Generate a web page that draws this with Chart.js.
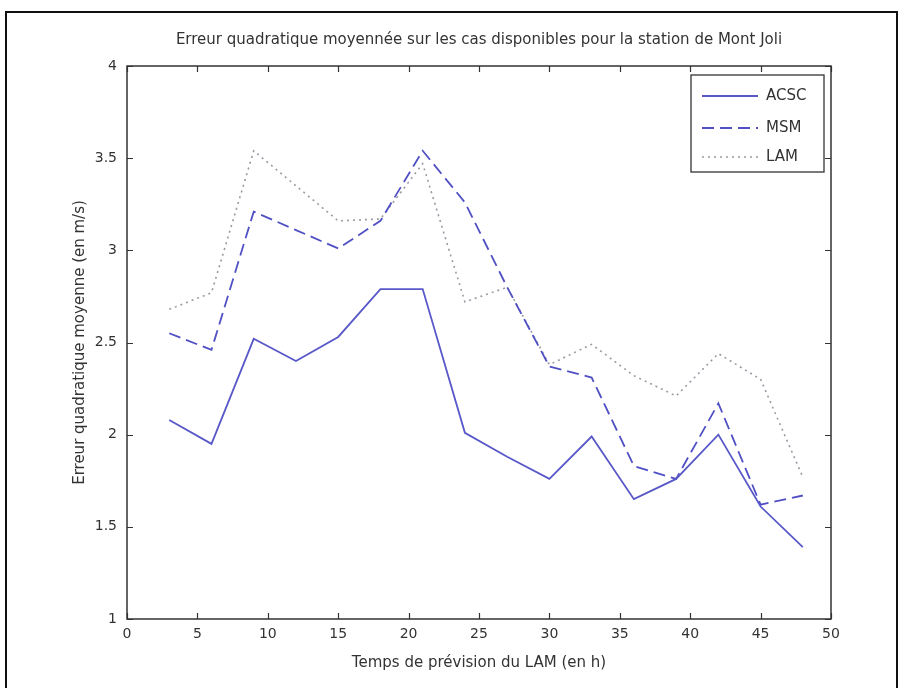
<!DOCTYPE html>
<html>
<head>
<meta charset="utf-8">
<script src="https://cdn.jsdelivr.net/npm/chart.js@4.4.0/dist/chart.umd.min.js"></script>
<style>
  html, body { margin: 0; padding: 0; background: #fff; }
  #wrap { position: relative; width: 903px; height: 688px; overflow: hidden; }
  #frame {
    position: absolute; left: 5px; top: 11px; width: 893px; height: 700px;
    border: 2px solid #111; box-sizing: border-box; pointer-events: none;
  }
  canvas { position: absolute; left: 0; top: 0; }
</style>
</head>
<body>
<div id="wrap">
  <canvas id="chart" width="903" height="688"></canvas>
  <div id="frame"></div>
</div>
<script>
// Forecast lead times (h)
const hours = [3, 6, 9, 12, 15, 18, 21, 24, 27, 30, 33, 36, 39, 42, 45, 48];

// RMSE values (m/s)
const acsc = [2.08, 1.95, 2.52, 2.40, 2.53, 2.79, 2.79, 2.01, 1.88, 1.76, 1.99, 1.65, 1.76, 2.00, 1.61, 1.39];
const msm  = [2.55, 2.46, 3.21, 3.11, 3.01, 3.16, 3.54, 3.26, 2.80, 2.37, 2.31, 1.83, 1.76, 2.17, 1.62, 1.67];
const lam  = [2.68, 2.77, 3.54, 3.35, 3.16, 3.17, 3.47, 2.72, 2.80, 2.38, 2.49, 2.32, 2.21, 2.44, 2.30, 1.77];

const seriesNames = ["ACSC", "MSM", "LAM"];

const titleText = "Erreur quadratique moyennée sur les cas disponibles pour la station de Mont Joli";
const xTitle = "Temps de prévision du LAM (en h)";
const yTitle = "Erreur quadratique moyenne (en m/s)";

const textColor = "#333";
const fontFamily = "'DejaVu Sans', sans-serif";

function toPoints(values) {
  return hours.map((h, i) => ({ x: h, y: values[i] }));
}

// MATLAB style box with inward ticks on all four sides
const boxPlugin = {
  id: "boxTicks",
  afterDatasetsDraw(chart) {
    const { ctx, chartArea: a, scales } = chart;
    const len = 6;
    ctx.save();
    ctx.strokeStyle = "#333";
    ctx.lineWidth = 1.2;
    ctx.beginPath();
    scales.x.ticks.forEach((t) => {
      const px = Math.round(scales.x.getPixelForValue(t.value)) + 0.5;
      ctx.moveTo(px, a.bottom); ctx.lineTo(px, a.bottom - len);
      ctx.moveTo(px, a.top); ctx.lineTo(px, a.top + len);
    });
    scales.y.ticks.forEach((t) => {
      const py = Math.round(scales.y.getPixelForValue(t.value)) + 0.5;
      ctx.moveTo(a.left, py); ctx.lineTo(a.left + len, py);
      ctx.moveTo(a.right, py); ctx.lineTo(a.right - len, py);
    });
    ctx.stroke();
    ctx.lineWidth = 1.5;
    ctx.strokeRect(a.left, a.top, a.right - a.left, a.bottom - a.top);
    ctx.restore();
  },
};

// legend box in the top right corner, like the original
const legendPlugin = {
  id: "boxLegend",
  afterDraw(chart) {
    const { ctx } = chart;
    const left = 691, top = 75, right = 824, bottom = 172;
    const rows = [96, 128, 157];
    ctx.save();
    ctx.fillStyle = "#fff";
    ctx.fillRect(left, top, right - left, bottom - top);
    ctx.strokeStyle = "#333";
    ctx.lineWidth = 1.3;
    ctx.strokeRect(left, top, right - left, bottom - top);
    ctx.font = "15px " + fontFamily;
    ctx.textBaseline = "middle";
    chart.data.datasets.forEach((ds, i) => {
      const y = rows[i];
      ctx.beginPath();
      ctx.setLineDash(ds.borderDash || []);
      ctx.strokeStyle = ds.borderColor;
      ctx.lineWidth = ds.borderWidth;
      ctx.moveTo(702, y);
      ctx.lineTo(758, y);
      ctx.stroke();
      ctx.setLineDash([]);
      ctx.fillStyle = textColor;
      ctx.fillText(ds.label, 766, y);
    });
    ctx.restore();
  },
};

const ctx = document.getElementById("chart").getContext("2d");
new Chart(ctx, {
  type: "line",
  data: {
    datasets: [
      {
        label: seriesNames[0],
        data: toPoints(acsc),
        borderColor: "#5858c8",
        borderWidth: 1.8,
        pointRadius: 0,
      },
      {
        label: seriesNames[1],
        data: toPoints(msm),
        borderColor: "#5050c4",
        borderWidth: 1.8,
        borderDash: [12, 6],
        pointRadius: 0,
      },
      {
        label: seriesNames[2],
        data: toPoints(lam),
        borderColor: "#9a9aa4",
        borderWidth: 1.6,
        borderDash: [2, 4],
        pointRadius: 0,
      },
    ],
  },
  options: {
    responsive: false,
    animation: false,
    layout: { padding: { left: 0, right: 72, top: 0, bottom: 0 } },
    plugins: {
      legend: { display: false },
      tooltip: { enabled: false },
      title: {
        display: true,
        fullSize: false,
        text: titleText,
        color: textColor,
        font: { family: fontFamily, size: 15, weight: "normal" },
        padding: { top: 31, bottom: 17 },
      },
    },
    scales: {
      x: {
        type: "linear",
        min: 0,
        max: 50,
        ticks: { stepSize: 5, color: textColor, padding: 7, maxRotation: 0, font: { family: fontFamily, size: 14 } },
        grid: { display: false, drawTicks: false },
        border: { display: false },
        title: {
          display: true,
          text: xTitle,
          color: textColor,
          font: { family: fontFamily, size: 15 },
          padding: { top: 4, bottom: 16 },
        },
        afterFit(scale) { scale.height = 69; },
      },
      y: {
        type: "linear",
        min: 1,
        max: 4,
        ticks: {
          stepSize: 0.5,
          color: textColor,
          padding: 10,
          font: { family: fontFamily, size: 14 },
          callback: (v) => `${v}`,
        },
        grid: { display: false, drawTicks: false },
        border: { display: false },
        title: {
          display: true,
          text: yTitle,
          color: textColor,
          font: { family: fontFamily, size: 15 },
          padding: { top: 71, bottom: 0 },
        },
        afterFit(scale) { scale.width = 127; },
      },
    },
  },
  plugins: [boxPlugin, legendPlugin],
});
</script>
</body>
</html>
